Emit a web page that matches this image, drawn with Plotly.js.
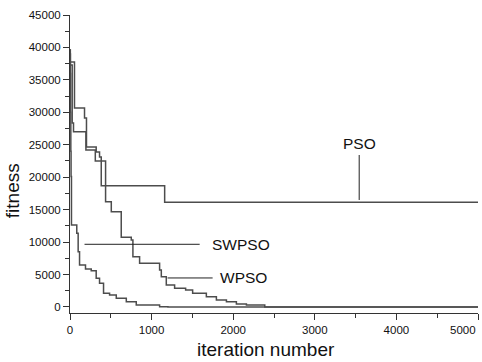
<!DOCTYPE html>
<html>
<head>
<meta charset="utf-8">
<script src="https://cdn.plot.ly/plotly-3.0.1.min.js"></script>
<style>html,body{margin:0;padding:0;background:#fff;}#chart{width:482px;height:362px;}</style>
</head>
<body>
<div id="chart"></div>
<script>
// PSO (step curve: value holds from this iteration until the next one)
const psoIter = [0, 3, 55, 178, 202, 321, 362, 383, 1160, 5000];
const psoFit  = [39600, 37750, 30660, 29120, 24650, 23880, 23110, 18690, 16130, 16130];

// WPSO
const wpsoIter = [0, 5, 27, 43, 195, 310, 436, 506, 628, 751, 771, 853, 1098, 1119, 1180, 1282, 1417, 1503, 1671, 1794, 1917, 2039, 2162, 2387, 5000];
const wpsoFit  = [39000, 37290, 28350, 27010, 24200, 22500, 16220, 14680, 10740, 10320, 7750, 6730, 5700, 4670, 3390, 2880, 2620, 2110, 1590, 1080, 820, 460, 300, 0, 0];

// SWPSO
const swpsoIter = [0, 4, 7, 10, 13, 18, 83, 100, 117, 190, 260, 321, 362, 411, 485, 567, 690, 812, 1098, 1200, 5000];
const swpsoFit  = [39600, 36000, 30000, 24000, 20100, 12630, 11360, 8500, 6470, 5860, 5590, 4420, 3650, 2110, 1850, 1340, 820, 310, 50, 0, 0];

// tick labels
const xTickVals = [0, 1000, 2000, 3000, 4000, 5000];
const xTickText = ['0', '1000', '2000', '3000', '4000', ''];
const xLastTick = '5000';
const yTickVals = [0, 5000, 10000, 15000, 20000, 25000, 30000, 35000, 40000, 45000];
const yTickText = ['0', '5000', '10000', '15000', '20000', '25000', '30000', '35000', '40000', '45000'];

// series labels: [name, x, y]
const labelNames = ['PSO', 'SWPSO', 'WPSO'];
const labelX = [3544, 1712, 1810];
const labelY = [25250, 9660, 4570];

const FONT = 'Liberation Sans, Arial, Helvetica, sans-serif';
const lineStyle = {color: '#4d4d4d', width: 1.5, shape: 'hv'};

const traces = [
  {x: psoIter, y: psoFit, mode: 'lines', line: lineStyle, name: 'PSO'},
  {x: wpsoIter, y: wpsoFit, mode: 'lines', line: lineStyle, name: 'WPSO'},
  {x: swpsoIter, y: swpsoFit, mode: 'lines', line: lineStyle, name: 'SWPSO'}
];

const annotations = [
  {x: labelX[0], y: labelY[0], xref: 'x', yref: 'y', text: labelNames[0], showarrow: false, xanchor: 'center', yanchor: 'middle', font: {family: FONT, size: 15.5, color: '#111'}},
  {x: labelX[1], y: labelY[1], xref: 'x', yref: 'y', text: labelNames[1], showarrow: false, xanchor: 'left', yanchor: 'middle', font: {family: FONT, size: 15.5, color: '#111'}},
  {x: labelX[2], y: labelY[2], xref: 'x', yref: 'y', text: labelNames[2], showarrow: false, xanchor: 'left', yanchor: 'middle', font: {family: FONT, size: 15.5, color: '#111'}},
  {x: 5000, y: 0, xref: 'x', yref: 'paper', text: xLastTick, showarrow: false, xanchor: 'right', yanchor: 'top', yshift: -9, xshift: 0, font: {family: FONT, size: 11.5, color: '#111'}},
  {x: 0.48, y: -0.124, xref: 'paper', yref: 'paper', text: 'iteration number', showarrow: false, xanchor: 'center', yanchor: 'middle', font: {family: FONT, size: 19, color: '#111'}},
  {x: -0.142, y: 0.409, xref: 'paper', yref: 'paper', text: 'fitness', textangle: -90, showarrow: false, xanchor: 'center', yanchor: 'middle', font: {family: FONT, size: 19, color: '#111'}}
];

const shapes = [
  {type: 'line', xref: 'x', yref: 'y', x0: 3544, x1: 3544, y0: 23420, y1: 16490, line: {color: '#222', width: 1}},
  {type: 'line', xref: 'x', yref: 'y', x0: 178, x1: 1589, y0: 9660, y1: 9660, line: {color: '#222', width: 1}},
  {type: 'line', xref: 'x', yref: 'y', x0: 1196, x1: 1748, y0: 4470, y1: 4470, line: {color: '#222', width: 1}}
];

const layout = {
  width: 482, height: 362,
  margin: {l: 70, r: 4, t: 15, b: 49, pad: 0},
  paper_bgcolor: '#fff', plot_bgcolor: '#fff',
  showlegend: false,
  font: {family: FONT, color: '#111'},
  xaxis: {
    range: [0, 5000], autorange: false,
    tickvals: xTickVals, ticktext: xTickText,
    ticks: 'outside', ticklen: 6, tickwidth: 1, tickcolor: '#333',
    minor: {dtick: 500, ticks: 'outside', ticklen: 4, tickcolor: '#333', showgrid: false},
    showline: true, linecolor: '#333', linewidth: 1,
    showgrid: false, zeroline: false,
    tickfont: {family: FONT, size: 11.5, color: '#111'}
  },
  yaxis: {
    range: [-930, 45000], autorange: false,
    tickvals: yTickVals, ticktext: yTickText,
    ticks: 'outside', ticklen: 6, tickwidth: 1, tickcolor: '#333',
    minor: {tickvals: [2500, 7500, 12500, 17500, 22500, 27500, 32500, 37500, 42500], ticks: 'outside', ticklen: 4, tickcolor: '#333', showgrid: false},
    showline: true, linecolor: '#333', linewidth: 1,
    showgrid: false, zeroline: false,
    tickfont: {family: FONT, size: 11.5, color: '#111'}
  },
  annotations: annotations,
  shapes: shapes
};

Plotly.newPlot('chart', traces, layout, {staticPlot: true, displayModeBar: false});
</script>
</body>
</html>
